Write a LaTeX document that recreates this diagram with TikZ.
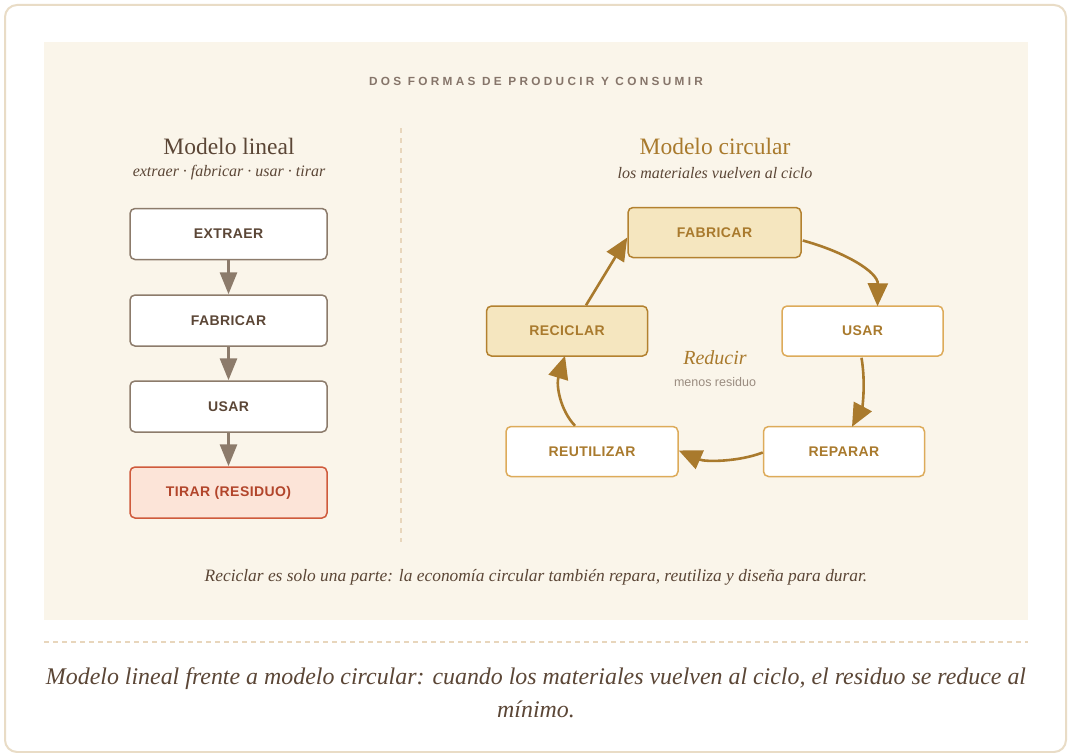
\documentclass[tikz,border=0pt]{standalone}
\usepackage{fontspec}
\setmainfont{Liberation Serif}
\newfontfamily\boxfont[LetterSpace=3]{Liberation Sans}
\newfontfamily\spacedfont[LetterSpace=28]{Liberation Sans}
\newfontfamily\plainsans{Liberation Sans}
\usetikzlibrary{arrows.meta,calc}
\definecolor{cardline}{HTML}{E9DCC6}
\definecolor{panel}{HTML}{FAF5EA}
\definecolor{dashc}{HTML}{E8D6BC}
\definecolor{darkbrown}{HTML}{5B4636}
\definecolor{graylab}{HTML}{86756A}
\definecolor{linborder}{HTML}{8C7B6B}
\definecolor{tirfill}{HTML}{FCE4D8}
\definecolor{tirline}{HTML}{CF5A3C}
\definecolor{tirtext}{HTML}{B2452B}
\definecolor{gold}{HTML}{A97A2D}
\definecolor{goldfill}{HTML}{F5E6BF}
\definecolor{goldline}{HTML}{B3812F}
\definecolor{lightgold}{HTML}{DDAB5A}
\definecolor{softgray}{HTML}{9A8C80}
\tikzset{
  linbox/.style={draw=linborder, fill=white, line width=1.5pt, rounded corners=5pt,
    minimum width=197pt, minimum height=51pt, inner sep=0pt,
    font=\boxfont\bfseries\fontsize{14}{16}\selectfont, text=darkbrown},
  tirbox/.style={linbox, draw=tirline, fill=tirfill, text=tirtext},
  cirbox/.style={draw=lightgold, fill=white, line width=1.5pt, rounded corners=5pt,
    minimum width=161pt, minimum height=50pt, inner sep=0pt,
    font=\boxfont\bfseries\fontsize{14}{16}\selectfont, text=gold},
  cirhot/.style={cirbox, draw=goldline, fill=goldfill},
  linarrow/.style={draw=linborder, line width=3pt, -{Triangle[length=22pt,width=17pt]}},
  cirarrow/.style={draw=gold, line width=2.6pt, -{Triangle[length=23pt,width=20pt]}},
}
\begin{document}
\begin{tikzpicture}[x=1pt,y=-1pt]
\useasboundingbox (0,0) rectangle (1070,752);
\fill[white] (0,0) rectangle (1070,752);
\draw[cardline, line width=2pt, rounded corners=12pt, fill=white] (5,5) rectangle (1066,752);
\fill[panel] (44,42) rectangle (1028,620);

\node[font=\spacedfont\bfseries\fontsize{11.8}{13}\selectfont, text=graylab] (title) at (536,81) {DOS FORMAS DE PRODUCIR Y CONSUMIR};

\draw[dashc, line width=1.3pt, dash pattern=on 5pt off 5pt] (401,128) -- (401,542);

% left
\node[font=\fontsize{23.5}{26}\selectfont, text=darkbrown] (lh) at (229,146) {Modelo lineal};
\node[font=\itshape\fontsize{16}{18}\selectfont, text=darkbrown] (ls) at (229,173) {extraer · fabricar · usar · tirar};

\node[linbox] (l1) at (228.5,234) {EXTRAER};
\node[linbox] (l2) at (228.5,320.5) {FABRICAR};
\node[linbox] (l3) at (228.5,406.5) {USAR};
\node[tirbox] (l4) at (228.5,492.5) {TIRAR (RESIDUO)};
\draw[linarrow] (l1.south) -- (l2.north);
\draw[linarrow] (l2.south) -- (l3.north);
\draw[linarrow] (l3.south) -- (l4.north);

% right
\node[font=\fontsize{23.5}{26}\selectfont, text=gold] (rh) at (715,146) {Modelo circular};
\node[font=\itshape\fontsize{16}{18}\selectfont, text=darkbrown] (rs) at (715,173) {los materiales vuelven al ciclo};

\node[cirhot, minimum width=173pt] (c1) at (714.5,232.5) {FABRICAR};
\node[cirbox] (c2) at (862.5,331) {USAR};
\node[cirbox] (c3) at (844,451.5) {REPARAR};
\node[cirbox, minimum width=172pt] (c4) at (592,451.5) {REUTILIZAR};
\node[cirhot] (c5) at (567,331) {RECICLAR};

\node[font=\itshape\fontsize{20}{22}\selectfont, text=gold] (red) at (715,358) {Reducir};
\node[font=\plainsans\fontsize{12.5}{14}\selectfont, text=softgray] (men) at (715,382) {menos residuo};

\draw[cirarrow] ($(c1.east)+(1,8)$) .. controls (845,252) and (878,272) .. ($(c2.north)+(15,1)$);
\draw[cirarrow] ($(c2.south)+(-1,1)$) .. controls (866,385) and (862,408) .. ($(c3.north)+(8,1)$);
\draw[cirarrow] ($(c3.west)+(0,1)$) .. controls (738,462) and (705,462) .. ($(c4.east)+(0,-1)$);
\draw[cirarrow] ($(c4.north)+(-17,0)$) .. controls (560,410) and (556,385) .. ($(c5.south)+(-2,-1)$);
\draw[cirarrow] ($(c5.north)+(19,0)$) -- ($(c1.west)+(0,5)$);

\node[font=\itshape\fontsize{17.4}{19}\selectfont, text=darkbrown] (note) at (536,577) {Reciclar es solo una parte: la economía circular también repara, reutiliza y diseña para durar.};

\draw[dashc, line width=1.3pt, dash pattern=on 5pt off 4pt] (44,642) -- (1028,642);

\node[font=\itshape\fontsize{23.9}{33}\selectfont, text=darkbrown, align=center] (cap) at (536,693) {Modelo lineal frente a modelo circular: cuando los materiales vuelven al ciclo, el residuo se reduce al\\ mínimo.};
\end{tikzpicture}
\end{document}
